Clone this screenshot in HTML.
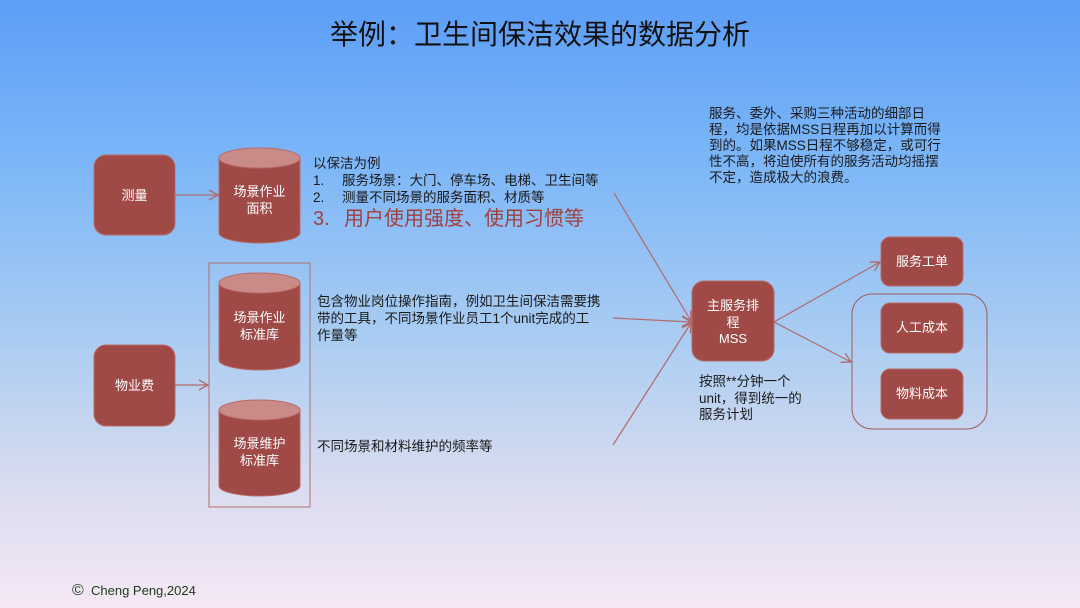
<!DOCTYPE html>
<html><head><meta charset="utf-8"><style>
html,body{margin:0;padding:0;width:1080px;height:608px;overflow:hidden;background:#f6e8f6}
body{background:linear-gradient(to bottom,#5c9ef8 0%,#7ab5f8 25%,#a9ccf2 55%,#d9dcef 80%,#f6e8f6 100%);font-family:"Liberation Sans","Noto Sans CJK SC",sans-serif}
svg{display:block}
svg text{font-family:"Liberation Sans","Noto Sans CJK SC",sans-serif}
</style></head><body>
<svg width="1080" height="608" viewBox="0 0 1080 608" xmlns="http://www.w3.org/2000/svg">
<defs>
<marker id="a" markerWidth="12" markerHeight="12" refX="10" refY="6" orient="auto" markerUnits="userSpaceOnUse">
<path d="M1,1 L10,6 L1,11" fill="none" stroke="#b06a6a" stroke-width="1.3"/>
</marker>
</defs>
<text x="540" y="44" font-size="28" text-anchor="middle" fill="#111">举例：卫生间保洁效果的数据分析</text>

<g fill="#a04a48" stroke="#b86a68" stroke-width="1">
<rect x="94" y="155" width="81" height="80" rx="12"/>
<rect x="94" y="345" width="81" height="81" rx="12"/>
<rect x="692" y="281" width="82" height="80" rx="12"/>
<rect x="881" y="237" width="82" height="49" rx="9"/>
<rect x="881" y="303" width="82" height="50" rx="9"/>
<rect x="881" y="369" width="82" height="50" rx="9"/>
</g>
<rect x="209" y="263" width="101" height="244" fill="none" stroke="#b07070" stroke-width="1"/>
<rect x="852" y="294" width="135" height="135" rx="20" fill="none" stroke="#a05a5a" stroke-width="1"/>

<g>
<path d="M219,158 L219,233 A40.5,10 0 0 0 300,233 L300,158" fill="#a04a48" stroke="#b86a68"/>
<ellipse cx="259.5" cy="158" rx="40.5" ry="10" fill="#c98b88" stroke="#b86a68"/>
<path d="M219,283 L219,360 A40.5,10 0 0 0 300,360 L300,283" fill="#a04a48" stroke="#b86a68"/>
<ellipse cx="259.5" cy="283" rx="40.5" ry="10" fill="#c98b88" stroke="#b86a68"/>
<path d="M219,410 L219,486 A40.5,10 0 0 0 300,486 L300,410" fill="#a04a48" stroke="#b86a68"/>
<ellipse cx="259.5" cy="410" rx="40.5" ry="10" fill="#c98b88" stroke="#b86a68"/>
</g>

<g stroke="#b06a6a" stroke-width="1.2" fill="none">
<line x1="175" y1="195" x2="218" y2="195" marker-end="url(#a)"/>
<line x1="175" y1="385" x2="208" y2="385" marker-end="url(#a)"/>
<line x1="614" y1="193" x2="691" y2="321" marker-end="url(#a)"/>
<line x1="613" y1="318" x2="691" y2="322" marker-end="url(#a)"/>
<line x1="613" y1="445" x2="691" y2="323" marker-end="url(#a)"/>
<line x1="774" y1="322" x2="880" y2="262" marker-end="url(#a)"/>
<line x1="774" y1="322" x2="851" y2="362" marker-end="url(#a)"/>
</g>

<g fill="#fff" font-size="13" text-anchor="middle">
<text x="134.5" y="200">测量</text>
<text x="134.5" y="390">物业费</text>
<text x="259.5" y="196">场景作业</text>
<text x="259.5" y="213">面积</text>
<text x="259.5" y="322">场景作业</text>
<text x="259.5" y="339">标准库</text>
<text x="259.5" y="448">场景维护</text>
<text x="259.5" y="465">标准库</text>
<text x="733" y="310">主服务排</text>
<text x="733" y="327">程</text>
<text x="733" y="343">MSS</text>
<text x="922" y="266">服务工单</text>
<text x="922" y="332">人工成本</text>
<text x="922" y="398">物料成本</text>
</g>

<g fill="#1a1a1a" font-size="13.5">
<text x="313" y="168">以保洁为例</text>
<text x="313" y="185">1.</text><text x="342" y="185">服务场景：大门、停车场、电梯、卫生间等</text>
<text x="313" y="202">2.</text><text x="342" y="202">测量不同场景的服务面积、材质等</text>
<text x="317" y="306">包含物业岗位操作指南，例如卫生间保洁需要携</text>
<text x="317" y="323">带的工具，不同场景作业员工1个unit完成的工</text>
<text x="317" y="340">作量等</text>
<text x="317" y="451">不同场景和材料维护的频率等</text>
<text x="709" y="118">服务、委外、采购三种活动的细部日</text>
<text x="709" y="134">程，均是依据MSS日程再加以计算而得</text>
<text x="709" y="150">到的。如果MSS日程不够稳定，或可行</text>
<text x="709" y="166">性不高，将迫使所有的服务活动均摇摆</text>
<text x="709" y="182">不定，造成极大的浪费。</text>
<text x="699" y="386">按照**分钟一个</text>
<text x="699" y="403">unit，得到统一的</text>
<text x="699" y="419">服务计划</text>
</g>
<text x="313" y="225" font-size="20" fill="#a0403e">3.</text>
<text x="344" y="225" font-size="20" fill="#a0403e">用户使用强度、使用习惯等</text>

<text x="72" y="595" font-size="16" fill="#1a3a1a">©</text>
<text x="91" y="595" font-size="13" fill="#1a3a1a">Cheng Peng,2024</text>
</svg>
</body></html>
